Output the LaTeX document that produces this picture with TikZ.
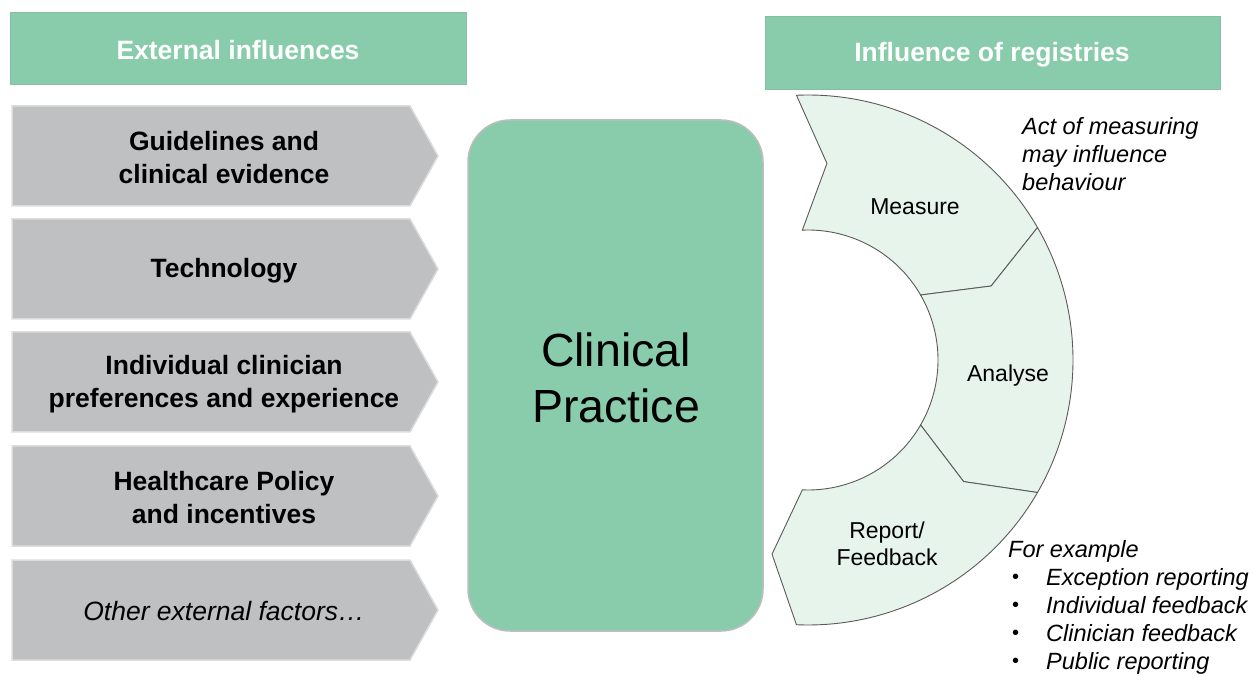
\documentclass[tikz,border=0pt]{standalone}
\usepackage{fontspec}
\setmainfont{Liberation Sans}
\definecolor{hdrgreen}{HTML}{89CCAC}
\definecolor{chevgray}{HTML}{BFC0C2}
\definecolor{chevedge}{HTML}{DCDCDC}
\definecolor{arcfill}{HTML}{E6F4EC}
\definecolor{arcedge}{HTML}{5A5A5A}
\definecolor{boxedge}{HTML}{BDBDBD}
\newcommand{\mybul}{\hspace*{4pt}\makebox[34pt][l]{\raisebox{1.5pt}{\upshape\fontsize{20}{28}\selectfont\textbullet}}}
\tikzset{
  header/.style={fill=hdrgreen, draw=hdrgreen!80!gray, line width=0.8pt},
  headertext/.style={text=white, font=\fontsize{26.5}{32}\selectfont\bfseries},
  chevron/.style={fill=chevgray, draw=chevedge, line width=1.5pt},
  chevtext/.style={align=center, font=\fontsize{26.5}{33}\selectfont\bfseries},
  cpbox/.style={fill=hdrgreen, draw=boxedge, line width=1.5pt, rounded corners=42pt},
  seg/.style={fill=arcfill, draw=arcedge, line width=0.9pt, line join=miter},
  segtext/.style={align=center, font=\fontsize{23}{27.5}\selectfont},
  note/.style={align=left, inner sep=0pt, font=\fontsize{23.5}{28}\selectfont\itshape}
}
\begin{document}
\begin{tikzpicture}[x=1pt,y=1pt]
\useasboundingbox (0,0) rectangle (1255,675);
% headers
\draw[header] (10,591) rectangle (466,663);
\node[headertext] (hl) at (238,625) {External influences};
\draw[header] (765,586) rectangle (1220,659);
\node[headertext] (hr) at (992,620) {Influence of registries};
% chevrons
\foreach \t/\name in {569/c1,456/c2,343/c3,229/c4,115/c5}{
  \draw[chevron] (12,\t-100) -- (410,\t-100) -- (438,\t-50) -- (410,\t) -- (12,\t) -- cycle;
}
\node[chevtext] (t1) at (224,517) {Guidelines and\\clinical evidence};
\node[chevtext] (t2) at (224,404) {Technology};
\node[chevtext] (t3) at (224,291) {Individual clinician\\preferences and experience};
\node[chevtext] (t4) at (224,177) {Healthcare Policy\\and incentives};
\node[chevtext, font=\fontsize{26.5}{33}\selectfont\itshape] (t5) at (224,64) {Other external factors\ldots};
% clinical practice
\draw[cpbox] (468,44) rectangle (763,555);
\node[align=center, font=\fontsize{46.5}{56}\selectfont] (cp) at (616,297) {Clinical\\Practice};
% arc segments
\begin{scope}[shift={(808,315)}]
\draw[seg] (92.5:265) arc[start angle=92.5,end angle=30,radius=265] -- (22:197.5) -- (30:130)
  arc[start angle=30,end angle=92.5,radius=130] -- (84.5:197.5) -- cycle;
\draw[seg] (30:265) arc[start angle=30,end angle=-30,radius=265] -- (-38:197.5) -- (-30:130)
  arc[start angle=-30,end angle=30,radius=130] -- (22:197.5) -- cycle;
\draw[seg] (-30:265) arc[start angle=-30,end angle=-92.5,radius=265] -- (-100.5:197.5) -- (-92.5:130)
  arc[start angle=-92.5,end angle=-30,radius=130] -- (-38:197.5) -- cycle;
\end{scope}
\node[segtext] (m) at (915,468) {Measure};
\node[segtext] (a) at (1008,299) {Analyse};
\node[segtext] (r) at (887,131) {Report/\\Feedback};
% notes
\node[note, anchor=north west] (n1) at (1022,558) {Act of measuring\\may influence\\behaviour};
\node[note, anchor=north west] (n2) at (1008,135) {For example\\
\mybul Exception reporting\\
\mybul Individual feedback\\
\mybul Clinician feedback\\
\mybul Public reporting};
\end{tikzpicture}
\end{document}
